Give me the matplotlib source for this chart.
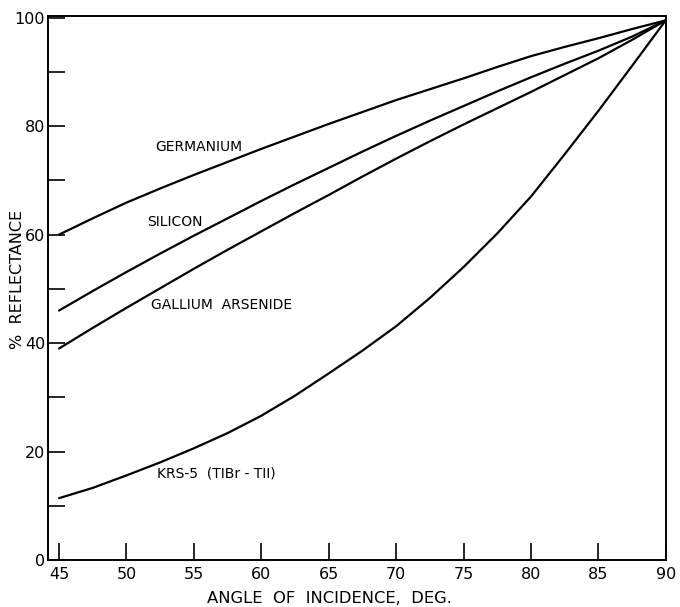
import numpy as np
import matplotlib.pyplot as plt

# =========================================================
# 1. DATA
# =========================================================

angle = [45, 47.5, 50, 52.5, 55, 57.5, 60, 62.5, 65, 67.5,
         70, 72.5, 75, 77.5, 80, 82.5, 85, 87.5, 90]

germanium = [60, 63, 65.9, 68.5, 71, 73.4, 75.8, 78.1, 80.4, 82.6,
             84.8, 86.8, 88.8, 90.9, 92.9, 94.6, 96.2, 97.9, 99.5]

silicon = [46, 49.6, 53.1, 56.5, 59.8, 63, 66.2, 69.3, 72.3, 75.3,
           78.2, 81, 83.7, 86.4, 89, 91.5, 93.9, 96.5, 99.5]

gallium_arsenide = [39, 42.8, 46.5, 50.1, 53.7, 57.2, 60.6, 64, 67.3, 70.7,
                    74, 77.2, 80.3, 83.3, 86.3, 89.4, 92.5, 95.9, 99.5]

krs5 = [11.4, 13.3, 15.6, 18.0, 20.6, 23.4, 26.6, 30.3, 34.4, 38.6,
        43.1, 48.3, 54.0, 60.2, 67.0, 74.8, 82.8, 91.1, 99.5]

series_names = ["GERMANIUM", "SILICON", "GALLIUM  ARSENIDE", "KRS-5  (TIBr - TII)"]
series_values = [germanium, silicon, gallium_arsenide, krs5]
label_pos = [(52.1, 76.2), (51.5, 62.4), (51.8, 47.1), (52.3, 16.0)]

x_ticks = [45, 50, 55, 60, 65, 70, 75, 80, 85, 90]
y_ticks = [0, 20, 40, 60, 80, 100]


# =========================================================
# 2. FIGURE
# =========================================================

fig = plt.figure(figsize=(6.8, 6.07), dpi=100)
ax = fig.add_axes([0.0706, 0.0774, 0.9084, 0.8962])

for name, vals, pos in zip(series_names, series_values, label_pos):
    ax.plot(angle, vals, color="black", linewidth=1.6, solid_capstyle="round")
    ax.text(pos[0], pos[1], name, fontsize=10, ha="left", va="center",
            color="black")

ax.set_xlim(44.18, 90)
ax.set_ylim(0, 100.3)

ax.set_xticks(x_ticks)
ax.set_yticks(y_ticks)
ax.set_yticks(np.arange(10, 100, 20), minor=True)

ax.tick_params(axis="both", which="both", direction="in", length=12,
               width=1.2, labelsize=11.5, color="black")
ax.tick_params(axis="x", pad=5)
ax.tick_params(axis="y", pad=2)

for s in ax.spines.values():
    s.set_linewidth(1.4)

ax.set_xlabel("ANGLE  OF  INCIDENCE,  DEG.", fontsize=11.8)
ax.set_ylabel("%  REFLECTANCE", fontsize=11.5)
ax.xaxis.set_label_coords(0.456, -0.057)
ax.yaxis.set_label_coords(-0.037, 0.515)

plt.savefig("out.png", dpi=100)
plt.close()
